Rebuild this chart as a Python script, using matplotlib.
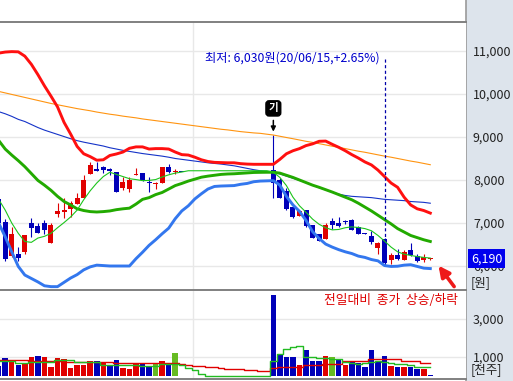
import numpy as np
import matplotlib.pyplot as plt
from matplotlib.patches import Rectangle
import matplotlib.transforms as mtransforms

plt.rcParams['font.family'] = ['Noto Sans CJK KR', 'DejaVu Sans']

nan = np.nan
HALT = [nan] * 13  # trading halt, days 29-41

# daily candles (won)
opens = [7550, 7030, 6230, 6280, 6330, 7000, 6930, 7010, 6540, 7200,
         7260, 7335, 7440, 7575, 8140, 8250, 8310, 8250, 8180, 7810,
         7790, 8110, 8170, 7950, 7900, 7940, 8300, 8180, 8190] + HALT + \
        [8230, 7990, 7750, 7380, 7170, 7300, 6950, 6745, 6630, 7050,
         7010, 7050, 7070, 6900, 6770, 6700, 6410, 6630, 6140, 6250,
         6150, 6370, 6230, 6130, 6160]
highs = [7600, 7100, 6900, 6440, 6730, 7110, 7000, 7060, 7010, 7460,
         7590, 7500, 7690, 8115, 8425, 8420, 8330, 8270, 8180, 8060,
         8060, 8270, 8170, 8060, 7960, 8310, 8370, 8260, 8190] + HALT + \
        [9050, 8050, 7810, 7380, 7300, 7310, 6950, 6745, 7010, 7120,
         7130, 7080, 7100, 6920, 6770, 6820, 6550, 6640, 6300, 6390,
         6380, 6540, 6280, 6290, 6190]
lows = [6950, 6120, 6200, 6120, 6290, 6670, 6760, 6740, 6540, 7150,
        7110, 7150, 7440, 7575, 8140, 8200, 8155, 8110, 7730, 7770,
        7730, 8110, 7985, 7730, 7780, 7940, 8170, 8140, 8190] + HALT + \
       [7580, 7570, 7300, 7110, 7170, 6910, 6660, 6580, 6630, 6860,
        6915, 6980, 6840, 6745, 6740, 6510, 6290, 6030, 6050, 6140,
        6150, 6230, 6100, 6100, 6150]
closes = [7000, 6170, 6740, 6190, 6720, 6890, 6760, 6840, 6950, 7280,
          7310, 7460, 7590, 8000, 8350, 8200, 8230, 8200, 7730, 7950,
          8000, 8150, 7990, 7940, 7940, 8310, 8190, 8190, 8190] + HALT + \
         [7930, 7580, 7320, 7130, 7280, 6920, 6660, 6590, 6950, 6950,
          6920, 7020, 6840, 6750, 6740, 6560, 6540, 6080, 6250, 6170,
          6330, 6260, 6110, 6200, 6190]

ma5 = [7550, 7300, 7000, 6760, 6570, 6550, 6650, 6690, 6760, 6890,
       7010, 7140, 7300, 7540, 7750, 7930, 8080, 8180, 8130, 8080,
       8030, 8010, 7985, 7990, 8010, 8070, 8120, 8160, 8185, 8215,
       8215, 8215, 8215, 8215, 8215, 8215, 8215, 8215, 8215, 8215,
       8215, 8215, 8180, 8060, 7870, 7600, 7400, 7250, 7090, 6970,
       6890, 6840, 6850, 6890, 6910, 6895, 6870, 6820, 6710, 6580,
       6440, 6330, 6275, 6245, 6220, 6200, 6185]
ma20 = [8920, 8720, 8580, 8450, 8310, 8150, 7990, 7880, 7760, 7620,
        7500, 7420, 7330, 7290, 7265, 7256, 7265, 7280, 7310, 7330,
        7345, 7440, 7550, 7590, 7660, 7710, 7790, 7870, 7920, 7975,
        8020, 8065, 8090, 8110, 8130, 8140, 8145, 8155, 8165, 8175,
        8178, 8180, 8180, 8160, 8110, 8060, 8000, 7940, 7880, 7830,
        7775, 7720, 7660, 7600, 7540, 7460, 7370, 7280, 7180, 7080,
        6980, 6870, 6790, 6710, 6660, 6610, 6570]
ma60 = [9590, 9540, 9480, 9410, 9360, 9290, 9220, 9160, 9110, 9060,
        9010, 8960, 8915, 8880, 8850, 8820, 8790, 8750, 8720, 8690,
        8665, 8640, 8615, 8595, 8575, 8555, 8530, 8500, 8480, 8460,
        8440, 8420, 8400, 8385, 8370, 8350, 8330, 8300, 8270, 8240,
        8215, 8200, 8190, 8140, 8090, 8040, 7990, 7940, 7880, 7820,
        7770, 7720, 7670, 7640, 7620, 7610, 7600, 7590, 7570, 7550,
        7540, 7530, 7520, 7500, 7490, 7480, 7460]
ma120 = [10060, 10025, 9990, 9955, 9920, 9885, 9850, 9815, 9780, 9750,
         9720, 9690, 9660, 9635, 9610, 9580, 9555, 9530, 9510, 9485,
         9465, 9445, 9420, 9400, 9380, 9360, 9340, 9320, 9300, 9280,
         9260, 9240, 9220, 9200, 9180, 9165, 9145, 9125, 9110, 9095,
         9085, 9065, 9046, 9017, 8988, 8960, 8930, 8900, 8875, 8845,
         8815, 8785, 8760, 8730, 8700, 8670, 8645, 8615, 8585, 8555,
         8530, 8500, 8470, 8440, 8415, 8385, 8355]
bb_up = [10950, 10975, 10985, 10980, 10880, 10690, 10450, 10190, 9950, 9700,
         9340, 9070, 8780, 8610, 8543, 8460, 8470, 8570, 8605, 8650,
         8737, 8770, 8770, 8720, 8730, 8730, 8720, 8650, 8590, 8580,
         8530, 8470, 8430, 8410, 8405, 8400, 8400, 8380, 8370, 8365,
         8365, 8365, 8365, 8480, 8610, 8680, 8730, 8800, 8840, 8900,
         8905, 8830, 8760, 8680, 8590, 8510, 8420, 8350, 8230, 8080,
         7930, 7830, 7600, 7420, 7330, 7290, 7230]
bb_dn = [7000, 6680, 6330, 5990, 5790, 5710, 5630, 5540, 5520, 5520,
         5620, 5720, 5800, 5910, 5980, 6020, 6010, 6000, 6000, 6000,
         6000, 6170, 6320, 6480, 6610, 6750, 6880, 7100, 7280, 7400,
         7560, 7680, 7790, 7850, 7860, 7865, 7870, 7900, 7920, 7960,
         7975, 7980, 7985, 7880, 7620, 7420, 7270, 7060, 6800, 6640,
         6510, 6440, 6380, 6330, 6290, 6230, 6200, 6150, 6120, 6010,
         5990, 5995, 6020, 6030, 5990, 5950, 5940]

# volume (thousand shares)
volume = [526, 947, 737, 579, 650, 1000, 1053, 1000, 474, 947,
          895, 421, 579, 579, 790, 790, 684, 526, 842, 421,
          368, 684, 684, 526, 632, 790, 632, 1210, 0] + [0] * 13 + \
         [4263, 1105, 1000, 1000, 579, 1368, 790, 790, 1053, 1000,
          842, 579, 737, 684, 474, 1368, 790, 1053, 526, 474,
          474, 474, 368, 368, 53]
vol_dir = list('bbrbrrbrrrrrrrrbrbbrrrbbgrbgb') + ['b'] * 13 + \
          list('bbbbrbbbrgbrbbbbbbrbrbbrb')
vol_ma5 = [790, 790, 790, 684, 684, 737, 737, 737, 737, 842,
           842, 842, 720, 720, 720, 720, 579, 579, 579, 560,
           560, 560, 500, 500, 500, 632, 632, 632, 560, 430,
           290, 130, 0, 0, 0, 0, 0, 0, 0, 0,
           0, 0, 800, 1150, 1400, 1520, 1579, 1020, 980, 950,
           930, 900, 880, 760, 680, 614, 680, 740, 790, 760,
           680, 650, 620, 560, 490, 470, 456]
vol_ma20 = [826, 826, 826, 826, 826, 790, 790, 790, 790, 790,
            737, 737, 737, 737, 737, 737, 737, 737, 700, 700,
            700, 700, 700, 700, 700, 700, 700, 700, 632, 580,
            526, 500, 474, 474, 430, 386, 386, 350, 316, 300,
            263, 263, 404, 474, 474, 474, 474, 595, 595, 595,
            647, 647, 647, 790, 790, 790, 790, 895, 895, 895,
            895, 895, 790, 790, 790, 700, 700]

price_ticks = [6000, 7000, 8000, 9000, 10000, 11000]
vol_ticks = [1000, 3000]
last_price = 6190

RED = '#e00000'
BLUE = '#0000b8'
GRID = '#e8e8e8'
LABEL = 9
x = np.arange(len(closes))

fig = plt.figure(figsize=(5.13, 3.81), dpi=100)
fig.patches.append(Rectangle((466 / 513, 0), 47 / 513, 1, transform=fig.transFigure,
                             facecolor='#dde4ec', edgecolor='none', zorder=-2))
fig.lines.append(plt.Line2D([466 / 513, 466 / 513], [0, 1], transform=fig.transFigure,
                            color='#9a9a9a', lw=1.2, zorder=-1))

ax = fig.add_axes([0, 1 - 290 / 381, 466 / 513, 268 / 381])
vax = fig.add_axes([0, 1 - 379 / 381, 466 / 513, 89 / 381], sharex=ax)

# --- price panel ---
for i in x:
    o, h, l, c = opens[i], highs[i], lows[i], closes[i]
    if np.isnan(o):
        continue
    col = RED if c > o else BLUE
    ax.vlines(i, l, h, color=col, lw=0.8, zorder=2)
    ax.bar(i, max(abs(c - o), 25), bottom=min(o, c), width=0.76, color=col, lw=0, zorder=2)

ax.plot(x, ma120, color='#ff9410', lw=0.8, zorder=3)
ax.plot(x, ma60, color='#1533c8', lw=0.8, zorder=3)
ax.plot(x, ma20, color='#22aa00', lw=2.1, zorder=3)
ax.plot(x, ma5, color='#1cc41c', lw=0.8, zorder=3)
ax.plot(x, bb_up, color='#ff1010', lw=2.1, zorder=3)
ax.plot(x, bb_dn, color='#3377ee', lw=2.1, zorder=3)

# lowest-price marker
low_i = 59
ax.plot([low_i, low_i], [10810, highs[low_i]], color='#0000aa', lw=0.9, ls=(0, (2.5, 2)), zorder=4)
ax.text(58.3, 10840, '최저: 6,030원(20/06/15,+2.65%)', color='#0000cc', fontsize=8.8,
        ha='right', va='center', zorder=5)

# "기" marker above the re-listing day
ax.text(42, 9665, '기', color='white', fontsize=7.5, fontweight='bold', ha='center', va='center',
        bbox=dict(boxstyle='round,pad=0.25,rounding_size=0.3', fc='black', ec='black'), zorder=5)
ax.annotate('', xy=(42, 9060), xytext=(42, 9450),
            arrowprops=dict(arrowstyle='-|>', color='black', lw=1.1, mutation_scale=7), zorder=5)

# red arrow to the current price
ax.annotate('', xy=(67.0, 6060), xytext=(69.9, 5470),
            arrowprops=dict(arrowstyle='-|>', color='#ee1a1a', lw=2.6, mutation_scale=16),
            annotation_clip=False, zorder=6)

ax.set_xlim(0.205, 0.205 + 466 / 6.54)
ax.set_ylim(5442, 11674)
ax.set_yticks(price_ticks)
ax.set_yticklabels([f'{t:,}' for t in price_ticks])
ax.yaxis.tick_right()
ax.tick_params(axis='y', length=0, pad=5, labelsize=LABEL, labelcolor='#222222')
ax.tick_params(axis='x', length=0, labelbottom=False)
ax.grid(axis='y', color=GRID, lw=1)
ax.axvline(29.7, color=GRID, lw=1, zorder=0)
ax.set_axisbelow(True)
for s in ['left', 'right', 'bottom']:
    ax.spines[s].set_visible(False)
ax.spines['top'].set_color('#808080')
ax.spines['top'].set_linewidth(1.4)

tr = mtransforms.blended_transform_factory(ax.transAxes, ax.transData)
ax.text(1 + 5 / 466, 5605, '[원]', transform=tr, fontsize=LABEL, color='#222222',
        va='center', ha='left', clip_on=False)
ax.text(1 + 5 / 466, last_price - 20, f'{last_price:,}', transform=tr, fontsize=LABEL, color='white',
        va='center', ha='left', clip_on=False, zorder=6,
        bbox=dict(boxstyle='square,pad=0.22', fc='#0000ee', ec='none'))

# --- volume panel ---
vcolors = {'r': RED, 'b': BLUE, 'g': '#66bb22'}
vax.bar(x, volume, width=0.84, color=[vcolors[d] for d in vol_dir], lw=0, zorder=2)
vax.plot(x, vol_ma20, color='#e00000', lw=1.0, drawstyle='steps-mid', zorder=3)
vax.plot(x, vol_ma5, color='#22bb22', lw=1.0, drawstyle='steps-mid', zorder=3)
vax.text(70.2, 3950, '전일대비  종가  상승/하락', color='#dd0000', fontsize=9.2,
         ha='right', va='center', zorder=5)

vax.set_ylim(-158, 4526)
vax.set_yticks(vol_ticks)
vax.set_yticklabels([f'{t:,}' for t in vol_ticks])
vax.yaxis.tick_right()
vax.tick_params(axis='y', length=0, pad=5, labelsize=LABEL, labelcolor='#222222')
vax.tick_params(axis='x', length=0, labelbottom=False)
vax.grid(axis='y', color=GRID, lw=1)
vax.axvline(29.7, color=GRID, lw=1, zorder=0)
vax.set_axisbelow(True)
for s in ['left', 'right']:
    vax.spines[s].set_visible(False)
for s in ['top', 'bottom']:
    vax.spines[s].set_color('#808080')
    vax.spines[s].set_linewidth(1.4)
vtr = mtransforms.blended_transform_factory(vax.transAxes, vax.transData)
vax.text(1 + 5 / 466, 263, '[천주]', transform=vtr, fontsize=LABEL, color='#222222',
         va='center', ha='left', clip_on=False)

fig.savefig('out.png', dpi=100)
